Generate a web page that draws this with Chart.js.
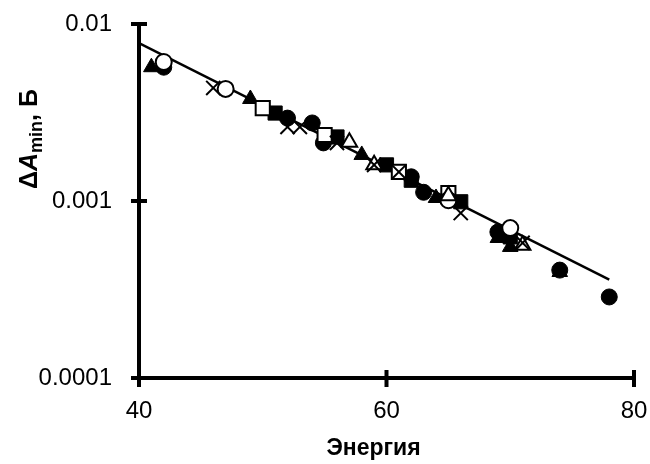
<!DOCTYPE html>
<html><head><meta charset="utf-8">
<script src="https://cdn.jsdelivr.net/npm/chart.js@4/dist/chart.umd.min.js"></script>
<style>html,body{margin:0;padding:0;background:#fff}#wrap{width:650px;height:464px}</style>
</head><body><div id="wrap"><canvas id="c" width="650" height="464"></canvas></div>
<script>
const xTicks = [40, 60, 80];
const yTicks = [0.0001, 0.001, 0.01];
const yTickLabels = ['0.0001', '0.001', '0.01'];
const xTitle = 'Энергия';

const filledTriX = [41, 49, 58, 64, 69, 70, 74];
const filledTriY = [0.0057, 0.00377, 0.00182, 0.00104, 0.000618, 0.00055, 0.000397];
const filledCircX = [42, 52, 54, 54.9, 62, 63, 69, 74, 78];
const filledCircY = [0.0057, 0.00294, 0.00276, 0.00213, 0.00137, 0.00112, 0.000668, 0.000407, 0.000287];
const openCircX = [42, 47, 65, 70];
const openCircY = [0.0061, 0.0043, 0.00101, 0.000703];
const crossX = [46, 52, 53, 56, 59, 61, 66, 71];
const crossY = [0.00435, 0.00262, 0.00262, 0.00213, 0.0016, 0.00146, 0.000855, 0.00058];
const openSqX = [50, 55, 61, 65];
const openSqY = [0.00335, 0.00236, 0.00146, 0.00111];
const filledSqX = [51, 56, 60, 62, 66, 70];
const filledSqY = [0.00314, 0.0023, 0.0016, 0.00131, 0.00099, 0.000627];
const openTriX = [57, 59, 65, 71];
const openTriY = [0.00215, 0.0016, 0.00107, 0.000563];
const trendX = [40, 78];
const trendY = [0.0078, 0.00036];

const pts = (xs, ys) => xs.map((x, i) => ({x: x, y: ys[i]}));

function series(xs, ys, style, filled, r) {
  return {
    type: 'scatter', data: pts(xs, ys), pointStyle: style, pointRadius: r,
    backgroundColor: filled ? '#000' : '#fff', borderColor: '#000',
    borderWidth: filled ? 1 : 2, order: 1
  };
}

const FONT = '"Liberation Sans", Arial, sans-serif';

const axesPlugin = {
  id: 'axesPlugin',
  afterDraw(chart) {
    const ctx = chart.ctx, xs = chart.scales.x, ys = chart.scales.y;
    const L = xs.left, R = xs.right, T = ys.top, B = ys.bottom;
    ctx.save();
    ctx.strokeStyle = '#000'; ctx.lineWidth = 4; ctx.lineCap = 'butt';
    ctx.beginPath();
    ctx.moveTo(L, T); ctx.lineTo(L, B); ctx.lineTo(R, B);
    ctx.stroke();
    ctx.beginPath();
    yTicks.forEach(v => { const y = ys.getPixelForValue(v); ctx.moveTo(L - 8, y); ctx.lineTo(L + 8, y); });
    xTicks.forEach(v => { const x = xs.getPixelForValue(v); ctx.moveTo(x, B - 8); ctx.lineTo(x, B + 9); });
    ctx.stroke();
    ctx.fillStyle = '#000';
    ctx.font = 'bold 23px ' + FONT;
    ctx.textAlign = 'center'; ctx.textBaseline = 'alphabetic';
    ctx.fillText(xTitle, (L + R) / 2 - 13, 455);
    ctx.translate(37, 189);
    ctx.rotate(-Math.PI / 2);
    ctx.textAlign = 'left';
    let x = 0;
    const big = 'bold 25px ' + FONT;
    const bigIt = 'italic bold 25px ' + FONT;
    const small = 'bold 18px ' + FONT;
    ctx.font = big; ctx.fillText('Δ', x, 0); x += ctx.measureText('Δ').width;
    ctx.font = bigIt; ctx.fillText('A', x, 0); x += ctx.measureText('A').width;
    ctx.font = small; ctx.fillText('min', x, 5); x += ctx.measureText('min').width;
    ctx.font = big; ctx.fillText(', Б', x, 0);
    ctx.restore();
  }
};

function zeroPad(s) { s.paddingTop = 0; s.paddingBottom = 0; s.paddingLeft = 0; s.paddingRight = 0; }

new Chart(document.getElementById('c'), {
  type: 'scatter',
  data: {
    datasets: [
      {type: 'line', data: pts(trendX, trendY), borderColor: '#000', borderWidth: 2.5, pointRadius: 0, fill: false, order: 10},
      series(crossX, crossY, 'crossRot', false, 10),
      series(openTriX, openTriY, 'triangle', false, 9),
      series(openCircX, openCircY, 'circle', false, 8),
      series(openSqX, openSqY, 'rect', false, 10),
      series(filledSqX, filledSqY, 'rect', true, 10),
      series(filledTriX, filledTriY, 'triangle', true, 9),
      series(filledCircX, filledCircY, 'circle', true, 8)
    ]
  },
  options: {
    responsive: false, animation: false, devicePixelRatio: 1,
    layout: {padding: {left: 0, top: 24, right: 16, bottom: 0}},
    plugins: {legend: {display: false}, tooltip: {enabled: false}},
    scales: {
      x: {
        type: 'linear', min: 40, max: 80,
        grid: {display: false, drawTicks: false}, border: {display: false},
        afterBuildTicks: s => { s.ticks = xTicks.map(v => ({value: v})); },
        afterFit: s => { s.height = 86; zeroPad(s); },
        ticks: {color: '#000', padding: 19, font: {family: FONT, size: 24}, maxRotation: 0,
          callback: v => String(v)}
      },
      y: {
        type: 'logarithmic', min: 0.0001, max: 0.01,
        grid: {display: false, drawTicks: false}, border: {display: false},
        afterBuildTicks: s => { s.ticks = yTicks.map(v => ({value: v})); },
        afterFit: s => { s.width = 139; zeroPad(s); },
        ticks: {color: '#000', padding: 27, font: {family: FONT, size: 24},
          callback: (v, i) => yTickLabels[i]}
      }
    }
  },
  plugins: [axesPlugin]
});
</script></body></html>
